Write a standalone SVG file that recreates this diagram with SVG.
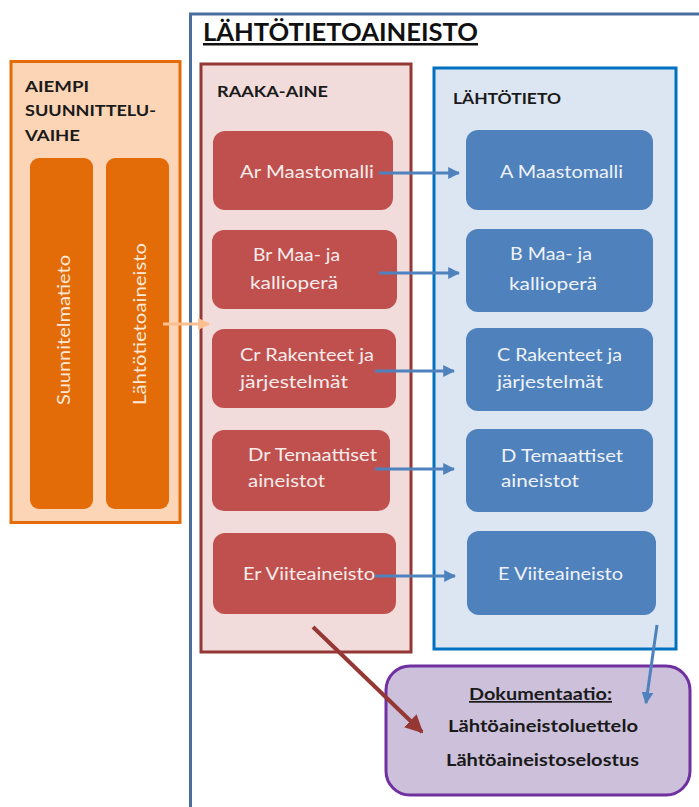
<svg xmlns="http://www.w3.org/2000/svg" width="699" height="807" viewBox="0 0 699 807">
<defs>
<style>
.t{font-family:Lato,"Liberation Sans",sans-serif}
.hd{font-weight:bold;fill:#1a1a1a;font-size:16px}
.rn{fill:#c0504d}
.bn{fill:#4f81bd}
.nt{font-size:18px;fill:#f6ecec}
.bt{font-size:18px;fill:#eef2f8}
.vt{font-size:18px;fill:#fde9d9}
.dk{font-weight:bold;fill:#1a1a1a;font-size:17px}
.ba{stroke:#4f81bd;stroke-width:3;fill:none}
</style>
<marker id="mb" viewBox="0 0 10 10" refX="9" refY="5" markerWidth="4" markerHeight="4" orient="auto" markerUnits="strokeWidth"><path d="M0,0L10,5L0,10z" fill="#4f81bd"/></marker>
<marker id="mo" viewBox="0 0 10 10" refX="9" refY="5" markerWidth="4" markerHeight="4" orient="auto" markerUnits="strokeWidth"><path d="M0,0L10,5L0,10z" fill="#fac090"/></marker>
<marker id="mr" viewBox="0 0 10 10" refX="9" refY="5" markerWidth="4.5" markerHeight="4.5" orient="auto" markerUnits="strokeWidth"><path d="M0,0L10,5L0,10z" fill="#953735"/></marker>
</defs>
<rect width="699" height="807" fill="#ffffff"/>

<g id="lahtotietoaineisto">
<path d="M699,14H190.5V807" fill="none" stroke="#4a6f9c" stroke-width="3"/>
<text class="t" x="203" y="41" font-size="25" font-weight="bold" fill="#111" text-decoration="underline" textLength="275" lengthAdjust="spacingAndGlyphs">LÄHTÖTIETOAINEISTO</text>
</g>

<g id="aiempi">
<rect x="11" y="61.5" width="169" height="461" fill="#fbd5b5" stroke="#e46c0a" stroke-width="3"/>
<text class="t hd" x="25" y="92" textLength="64" lengthAdjust="spacingAndGlyphs">AIEMPI</text>
<text class="t hd" x="25" y="116" textLength="131" lengthAdjust="spacingAndGlyphs">SUUNNITTELU-</text>
<text class="t hd" x="25" y="141" textLength="55" lengthAdjust="spacingAndGlyphs">VAIHE</text>
</g>
<g id="suunnitelmatieto">
<rect x="30" y="158" width="63" height="351" rx="9" fill="#e36c09"/>
<text class="t vt" transform="translate(70,405) rotate(-90)" textLength="150" lengthAdjust="spacingAndGlyphs">Suunnitelmatieto</text>
</g>
<g id="lahtotietoaineisto-bar">
<rect x="106" y="158" width="63" height="351" rx="9" fill="#e36c09"/>
<text class="t vt" transform="translate(146,405) rotate(-90)" textLength="162" lengthAdjust="spacingAndGlyphs">Lähtötietoaineisto</text>
</g>

<g id="raaka-aine">
<rect x="201" y="64" width="210" height="588" fill="#f2dcdb" stroke="#953735" stroke-width="3"/>
<text class="t hd" x="217" y="97" textLength="111" lengthAdjust="spacingAndGlyphs">RAAKA-AINE</text>
</g>
<g id="lahtotieto">
<rect x="434" y="68" width="242" height="581" fill="#dce6f2" stroke="#0070c0" stroke-width="3"/>
<text class="t hd" x="453" y="104" textLength="108" lengthAdjust="spacingAndGlyphs">LÄHTÖTIETO</text>
</g>

<g id="ar">
<rect class="rn" x="213" y="131" width="180" height="79" rx="12"/>
<text class="t nt" x="240" y="178" textLength="134" lengthAdjust="spacingAndGlyphs">Ar Maastomalli</text>
</g>
<g id="br">
<rect class="rn" x="212" y="230" width="185" height="79" rx="12"/>
<text class="t nt" x="253" y="261" textLength="87" lengthAdjust="spacingAndGlyphs">Br Maa- ja</text>
<text class="t nt" x="250" y="289" textLength="88" lengthAdjust="spacingAndGlyphs">kallioperä</text>
</g>
<g id="cr">
<rect class="rn" x="212" y="329" width="184" height="79" rx="12"/>
<text class="t nt" x="240" y="361" textLength="134" lengthAdjust="spacingAndGlyphs">Cr Rakenteet ja</text>
<text class="t nt" x="240" y="388" textLength="108" lengthAdjust="spacingAndGlyphs">järjestelmät</text>
</g>
<g id="dr">
<rect class="rn" x="212" y="430" width="178" height="81" rx="12"/>
<text class="t nt" x="248" y="461" textLength="129" lengthAdjust="spacingAndGlyphs">Dr Temaattiset</text>
<text class="t nt" x="248" y="487" textLength="77" lengthAdjust="spacingAndGlyphs">aineistot</text>
</g>
<g id="er">
<rect class="rn" x="213" y="533" width="183" height="81" rx="12"/>
<text class="t nt" x="243" y="580" textLength="132" lengthAdjust="spacingAndGlyphs">Er Viiteaineisto</text>
</g>

<g id="a">
<rect class="bn" x="466" y="130" width="187" height="80" rx="12"/>
<text class="t bt" x="500" y="178" textLength="123" lengthAdjust="spacingAndGlyphs">A Maastomalli</text>
</g>
<g id="b">
<rect class="bn" x="466" y="229" width="187" height="83" rx="12"/>
<text class="t bt" x="510" y="260" textLength="82" lengthAdjust="spacingAndGlyphs">B Maa- ja</text>
<text class="t bt" x="509" y="290" textLength="88" lengthAdjust="spacingAndGlyphs">kallioperä</text>
</g>
<g id="c">
<rect class="bn" x="466" y="328" width="187" height="83" rx="12"/>
<text class="t bt" x="497" y="361" textLength="125" lengthAdjust="spacingAndGlyphs">C Rakenteet ja</text>
<text class="t bt" x="497" y="388" textLength="106" lengthAdjust="spacingAndGlyphs">järjestelmät</text>
</g>
<g id="d">
<rect class="bn" x="466" y="429" width="187" height="83" rx="12"/>
<text class="t bt" x="501" y="462" textLength="122" lengthAdjust="spacingAndGlyphs">D Temaattiset</text>
<text class="t bt" x="501" y="487" textLength="78" lengthAdjust="spacingAndGlyphs">aineistot</text>
</g>
<g id="e">
<rect class="bn" x="467" y="531" width="189" height="84" rx="12"/>
<text class="t bt" x="498" y="580" textLength="125" lengthAdjust="spacingAndGlyphs">E Viiteaineisto</text>
</g>

<g id="dokumentaatio">
<rect x="386" y="666" width="304" height="129" rx="24" fill="#ccc0da" stroke="#7030a0" stroke-width="3"/>
<text class="t dk" x="469" y="700" text-decoration="underline" textLength="143" lengthAdjust="spacingAndGlyphs">Dokumentaatio:</text>
<text class="t dk" x="448" y="732" textLength="190" lengthAdjust="spacingAndGlyphs">Lähtöaineistoluettelo</text>
<text class="t dk" x="446" y="766" textLength="193" lengthAdjust="spacingAndGlyphs">Lähtöaineistoselostus</text>
</g>

<g id="connectors">
<line x1="163" y1="324" x2="209" y2="324" stroke="#fac090" stroke-width="3" marker-end="url(#mo)"/>
<line class="ba" x1="379" y1="173" x2="459" y2="173" marker-end="url(#mb)"/>
<line class="ba" x1="379" y1="273" x2="459" y2="273" marker-end="url(#mb)"/>
<line class="ba" x1="375" y1="371" x2="454" y2="371" marker-end="url(#mb)"/>
<line class="ba" x1="375" y1="469" x2="454" y2="469" marker-end="url(#mb)"/>
<line class="ba" x1="375" y1="576" x2="455" y2="576" marker-end="url(#mb)"/>
<line x1="313" y1="627" x2="422" y2="732" stroke="#953735" stroke-width="4" marker-end="url(#mr)"/>
<line class="ba" x1="657" y1="625" x2="646" y2="703" marker-end="url(#mb)"/>
</g>
</svg>
